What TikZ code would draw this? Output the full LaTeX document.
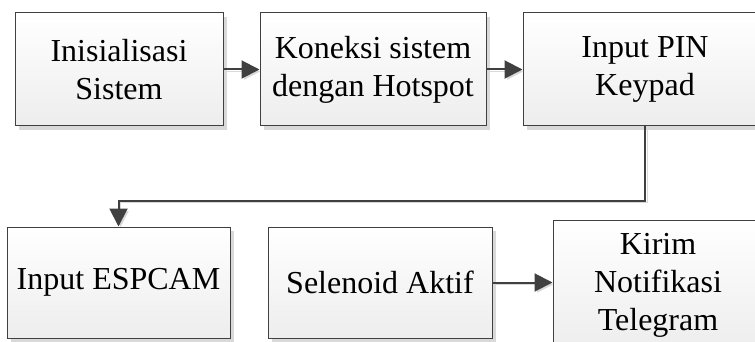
\documentclass[tikz,border=0pt]{standalone}
\usepackage{fontspec}
\setmainfont{Liberation Serif}
\usetikzlibrary{arrows.meta,shadows}

\tikzset{
  blok/.style={draw=black!75, line width=0.5pt, top color=white, bottom color=black!7,
    drop shadow={shadow xshift=2pt, shadow yshift=-2pt, fill=black!15, opacity=1},
    align=center, inner sep=0pt, font=\fontsize{16}{19}\selectfont},
  panah/.style={draw=black!75, line width=1pt, -{Triangle[length=9pt,width=9pt]},
    preaction={draw=black!15, transform canvas={shift={(1pt,-1pt)}}}}
}

\begin{document}
\begin{tikzpicture}[x=0.5pt,y=-0.5pt]
        \clip (0,0) rectangle (755,342);

        \node[blok, minimum width=104pt, minimum height=56.5pt] (init) at (119,69.5) {Inisialisasi\\Sistem};
        \node[blok, minimum width=113pt, minimum height=56.5pt] (koneksi) at (373,69.5) {Koneksi sistem\\dengan Hotspot};
        \node[blok, minimum width=122pt, minimum height=56.5pt] (pin) at (645,69.5) {Input PIN\\Keypad};

        \node[blok, minimum width=111.5pt, minimum height=55.5pt] (espcam) at (118.5,282.5) {Input ESPCAM};
        \node[blok, minimum width=112pt, minimum height=55.5pt] (selenoid) at (380,282.5) {Selenoid Aktif};
        \node[blok, minimum width=105pt, minimum height=65pt] (kirim) at (658,285) {Kirim\\Notifikasi\\Telegram};

        \draw[panah] (init) -- (koneksi);
        \draw[panah] (koneksi) -- (pin);
        \draw[panah] (pin.south) -- ++(0,74) -| (espcam.north);
        \draw[panah] (selenoid) -- (selenoid -| kirim.west);

\end{tikzpicture}
\end{document}
